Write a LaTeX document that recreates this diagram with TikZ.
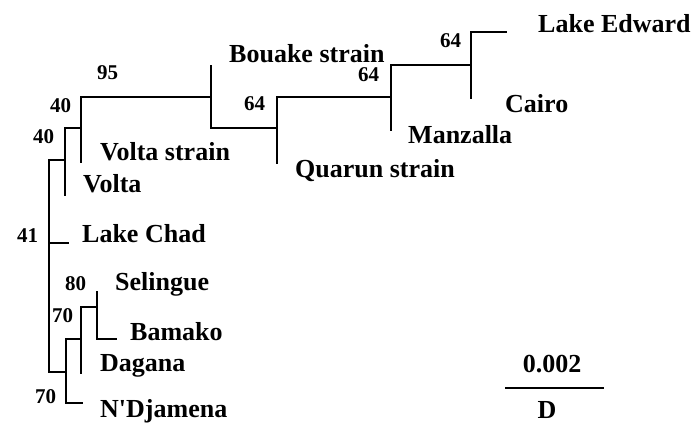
\documentclass[tikz,border=0pt]{standalone}
\usepackage{fontspec}
\setmainfont{Liberation Serif}
\begin{document}
\begin{tikzpicture}[x=1pt,y=-1pt,
  br/.style={line width=1.7pt,line cap=rect},
  leaf/.style={anchor=base west,inner sep=0pt,font=\fontsize{26}{29}\selectfont\bfseries},
  boot/.style={anchor=base west,inner sep=0pt,font=\fontsize{21}{24}\selectfont\bfseries}]
\useasboundingbox (0,0) rectangle (695,424);
% internal nodes
\coordinate (root) at (49,243);
\coordinate (A40b) at (65,160);
\coordinate (A40a) at (81,128);
\coordinate (B95) at (211,97);
\coordinate (C64) at (277,128);
\coordinate (D64) at (391,97);
\coordinate (E64) at (471,65);
\coordinate (F70) at (66,372);
\coordinate (G70) at (81,339);
\coordinate (H80) at (97,307);
% leaf ends
\coordinate (edward) at (506,32);
\coordinate (cairo) at (471,98);
\coordinate (manzalla) at (391,130);
\coordinate (quarun) at (277,163);
\coordinate (bouake) at (211,66);
\coordinate (voltastrain) at (81,162);
\coordinate (volta) at (65,195);
\coordinate (chad) at (68,243);
\coordinate (selingue) at (97,292);
\coordinate (bamako) at (116,339);
\coordinate (dagana) at (81,373);
\coordinate (ndj) at (82,403);
% branches
\draw[br] (root) |- (A40b);
\draw[br] (root) |- (chad);
\draw[br] (root) |- (F70);
\draw[br] (A40b) |- (A40a);
\draw[br] (A40b) |- (volta);
\draw[br] (A40a) |- (B95);
\draw[br] (A40a) |- (voltastrain);
\draw[br] (B95) |- (bouake);
\draw[br] (B95) |- (C64);
\draw[br] (C64) |- (D64);
\draw[br] (C64) |- (quarun);
\draw[br] (D64) |- (E64);
\draw[br] (D64) |- (manzalla);
\draw[br] (E64) |- (edward);
\draw[br] (E64) |- (cairo);
\draw[br] (F70) |- (G70);
\draw[br] (F70) |- (ndj);
\draw[br] (G70) |- (H80);
\draw[br] (G70) |- (dagana);
\draw[br] (H80) |- (selingue);
\draw[br] (H80) |- (bamako);
% leaf labels
\node[leaf] (tEdward) at (538,32) {Lake Edward};
\node[leaf] (tBouake) at (229,62) {Bouake strain};
\node[leaf] (tCairo) at (505,112) {Cairo};
\node[leaf] (tManzalla) at (408,143) {Manzalla};
\node[leaf] (tQuarun) at (295,177) {Quarun strain};
\node[leaf] (tVoltaS) at (100,160) {Volta strain};
\node[leaf] (tVolta) at (83,192) {Volta};
\node[leaf] (tChad) at (82,242) {Lake Chad};
\node[leaf] (tSel) at (115,290) {Selingue};
\node[leaf] (tBam) at (130,340) {Bamako};
\node[leaf] (tDag) at (100,371) {Dagana};
\node[leaf] (tNdj) at (100,417) {N\textquotesingle Djamena};
% bootstrap values
\node[boot] (b95) at (97,79) {95};
\node[boot] (b40a) at (50,112) {40};
\node[boot] (b40b) at (33,143) {40};
\node[boot] (b41) at (17,242) {41};
\node[boot] (b64c) at (244,110) {64};
\node[boot] (b64d) at (358,81) {64};
\node[boot] (b64e) at (440,47) {64};
\node[boot] (b80) at (65,290) {80};
\node[boot] (b70a) at (52,322) {70};
\node[boot] (b70b) at (35,403) {70};
% scale bar
\coordinate (sL) at (505,388);
\coordinate (sR) at (604,388);
\draw[line width=1.7pt] (sL) -- (sR);
\node[leaf,anchor=base] (sTxt) at (552,372) {0.002};
\node[leaf,anchor=base] (sD) at (547,418) {D};
\end{tikzpicture}
\end{document}
